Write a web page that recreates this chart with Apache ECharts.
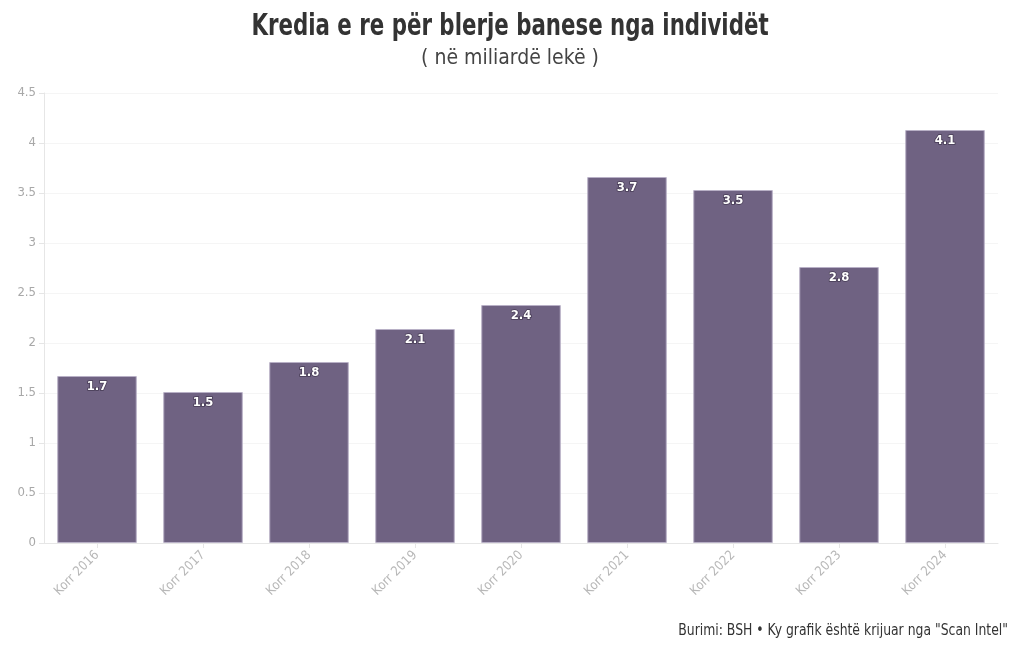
<!DOCTYPE html>
<html><head><meta charset="utf-8">
<script src="https://cdn.jsdelivr.net/npm/echarts@6/dist/echarts.min.js"></script>
<style>html,body{margin:0;padding:0;background:#fff}#c{width:1020px;height:650px}</style>
</head><body><div id="c"></div>
<script>
const categories = ["Korr 2016","Korr 2017","Korr 2018","Korr 2019","Korr 2020","Korr 2021","Korr 2022","Korr 2023","Korr 2024"];
const values = [1.67, 1.51, 1.81, 2.14, 2.38, 3.66, 3.53, 2.76, 4.13];
const yTicks = [0, 0.5, 1, 1.5, 2, 2.5, 3, 3.5, 4, 4.5];
const titleText = "Kredia e re për blerje banese nga individët";
const subtitleText = "( në miliardë lekë )";
const sourceText = "Burimi: BSH • Ky grafik është krijuar nga \"Scan Intel\"";

const font = "'Liberation Sans Narrow', 'DejaVu Sans Condensed', sans-serif";
const chart = echarts.init(document.getElementById('c'));
chart.setOption({
  animation: false,
  title: [
    {text: subtitleText, left: 'center', top: 43, textStyle: {fontFamily: font, fontSize: 21, fontWeight: 'normal', color: '#444'}}
  ],
  graphic: [
    {type: 'text', x: 510, y: 27, originX: 0, originY: 0, scaleX: 0.765,
      style: {text: titleText, x: 0, y: 0, align: 'center', verticalAlign: 'middle',
        font: "bold 31px " + font, fill: '#333'}},
    {type: 'text', x: 1008, y: 631, scaleX: 0.92,
      style: {text: sourceText, x: 0, y: 0, align: 'right', verticalAlign: 'middle',
        font: "15px " + font, fill: '#333'}}
  ],
  grid: {left: 44, right: 22, top: 93, bottom: 107, containLabel: false},
  xAxis: {
    type: 'category', data: categories,
    axisLine: {lineStyle: {color: '#e6e6e6'}},
    axisTick: {show: true, alignWithLabel: true, lineStyle: {color: '#e6e6e6'}},
    axisLabel: {rotate: 45, color: '#b8b8b8', fontFamily: font, fontSize: 13, margin: 10}
  },
  yAxis: {
    type: 'value', min: 0, max: 4.5, interval: 0.5,
    axisLine: {show: true, lineStyle: {color: '#e6e6e6'}},
    axisTick: {show: true, length: 5, lineStyle: {color: '#e6e6e6'}},
    splitLine: {show: true, lineStyle: {color: '#f5f5f5'}},
    axisLabel: {color: '#a8a8a8', fontFamily: font, fontSize: 13,
      formatter: v => yTicks.includes(v) ? String(v) : ''}
  },
  series: [{
    type: 'bar', data: values, barCategoryGap: '25%',
    itemStyle: {color: '#6f6282', borderColor: '#b8b0c6', borderWidth: 1},
    label: {show: true, position: 'insideTop', distance: 4, color: '#fff', fontFamily: font, fontWeight: 'bold', fontSize: 13,
      textBorderColor: 'rgba(40,30,50,0.6)', textBorderWidth: 1.5,
      formatter: p => p.value.toFixed(1)}
  }]
});
</script></body></html>
